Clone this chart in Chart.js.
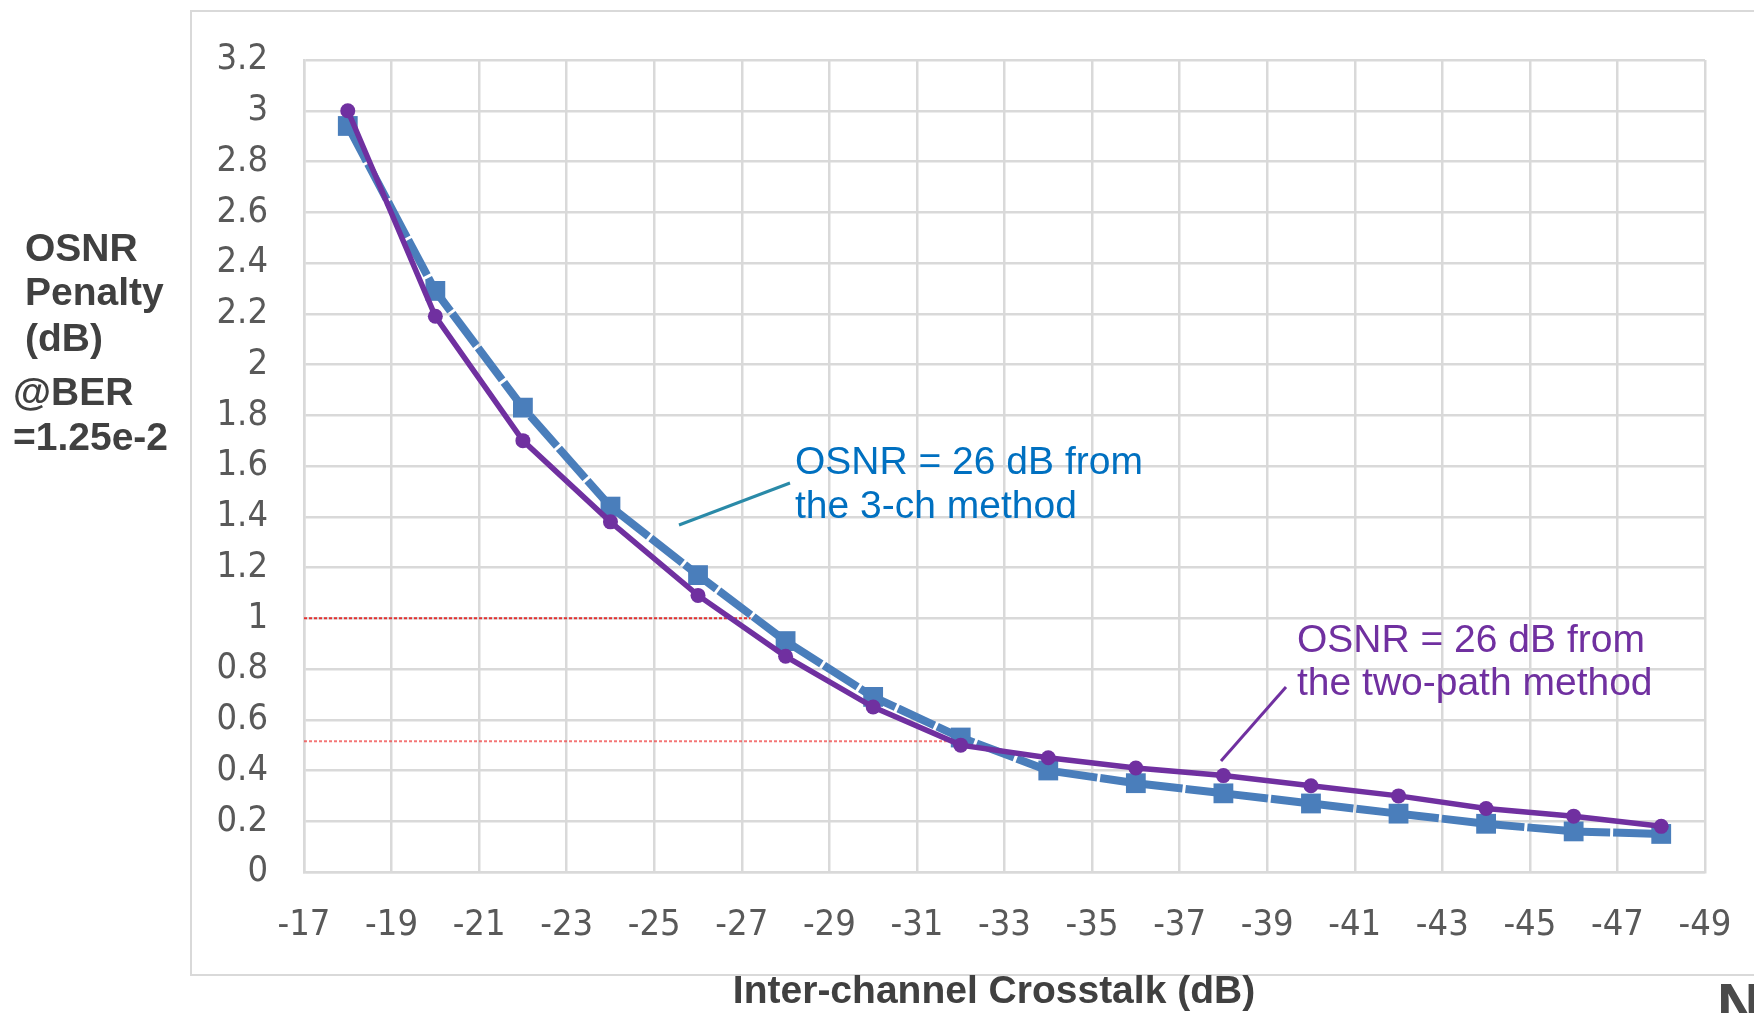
<!DOCTYPE html>
<html>
<head>
<meta charset="utf-8">
<script src="https://cdn.jsdelivr.net/npm/chart.js@4.4.1/dist/chart.umd.min.js"></script>
<style>
  html, body { margin: 0; padding: 0; background: #fff; }
  #wrap { width: 1754px; height: 1013px; }
</style>
</head>
<body>
<div id="wrap"><canvas id="penaltyChart" width="1754" height="1013"></canvas></div>
<script>
// crosstalk (dB) and OSNR penalty values
const crosstalk = [-18, -20, -22, -24, -26, -28, -30, -32, -34, -36, -38, -40, -42, -44, -46, -48];
const threeChPenalty = [2.94, 2.29, 1.83, 1.44, 1.17, 0.91, 0.69, 0.53, 0.40, 0.35, 0.31, 0.27, 0.23, 0.19, 0.16, 0.15];
const twoPathPenalty = [3.00, 2.19, 1.70, 1.38, 1.09, 0.85, 0.65, 0.50, 0.45, 0.41, 0.38, 0.34, 0.30, 0.25, 0.22, 0.18];

// red dotted guide lines: level and where they stop
const guideLevels = [1.0, 0.515];
const guideStart = -17;
const guideEnds = [-27.2, -32.2];

const xTicks = [-17, -19, -21, -23, -25, -27, -29, -31, -33, -35, -37, -39, -41, -43, -45, -47, -49];
const yTicks = [0, 0.2, 0.4, 0.6, 0.8, 1, 1.2, 1.4, 1.6, 1.8, 2, 2.2, 2.4, 2.6, 2.8, 3, 3.2];

const yTitleLines = ['OSNR', 'Penalty', '(dB)', '@BER', '=1.25e-2'];
const xTitle = 'Inter-channel Crosstalk (dB)';
const blueNote = ['OSNR = 26 dB from', 'the 3-ch method'];
const purpleNote = ['OSNR = 26 dB from', 'the two-path method'];

const GRID = '#d9d9d9';
const BLUE = '#4a7ebb';
const PURPLE = '#7030a0';
const TICK_FONT = '"Liberation Sans Narrow", "DejaVu Sans Condensed", "Liberation Sans", Arial, sans-serif';

const toXY = (xs, ys) => xs.map((x, i) => ({ x: x, y: ys[i] }));

const guideSets = guideLevels.map((lvl, i) => ({
    label: 'guide' + i,
    data: [{ x: guideStart, y: lvl }, { x: guideEnds[i], y: lvl }],
    borderColor: i === 0 ? 'rgba(230, 20, 20, 0.85)' : 'rgba(240, 60, 60, 0.7)',
    borderWidth: 2,
    borderDash: [3, 2],
    pointRadius: 0,
    order: 3
}));

// free text, leader lines and the outer frame
const decorations = {
    id: 'decorations',
    beforeDraw(chart) {
        const ctx = chart.ctx;
        ctx.save();
        ctx.fillStyle = '#fff';
        ctx.fillRect(0, 0, chart.width, chart.height);
        ctx.strokeStyle = GRID;
        ctx.lineWidth = 2;
        ctx.beginPath();
        ctx.moveTo(1754, 11);
        ctx.lineTo(191, 11);
        ctx.lineTo(191, 975);
        ctx.lineTo(1754, 975);
        ctx.stroke();
        ctx.restore();
    },
    afterDraw(chart) {
        const ctx = chart.ctx;
        ctx.save();
        ctx.textBaseline = 'middle';

        // y axis title
        ctx.fillStyle = '#404040';
        ctx.font = 'bold 39px "Liberation Sans", Arial, sans-serif';
        ctx.textAlign = 'left';
        const yTitleX = [25, 25, 25, 13, 13];
        const yTitleY = [250, 294, 340, 394, 439];
        yTitleLines.forEach((t, i) => ctx.fillText(t, yTitleX[i], yTitleY[i]));

        // x axis title
        ctx.textAlign = 'center';
        ctx.font = 'bold 39px "Liberation Sans", Arial, sans-serif';
        ctx.fillText(xTitle, 994, 992);

        // stray "N" cut off at the corner
        ctx.textAlign = 'left';
        ctx.textBaseline = 'alphabetic';
        ctx.fillStyle = '#4a4a4a';
        ctx.font = 'bold 60px "Liberation Sans", Arial, sans-serif';
        ctx.fillText('N', 1717, 1025);

        // annotations
        ctx.textBaseline = 'middle';
        ctx.font = '39px "Liberation Sans", Arial, sans-serif';
        ctx.fillStyle = '#0070c0';
        blueNote.forEach((t, i) => ctx.fillText(t, 795, 463 + i * 44));
        ctx.fillStyle = PURPLE;
        purpleNote.forEach((t, i) => ctx.fillText(t, 1297, 641 + i * 43));

        ctx.lineWidth = 3;
        ctx.strokeStyle = '#2a8aa8';
        ctx.beginPath();
        ctx.moveTo(679, 525);
        ctx.lineTo(790, 483);
        ctx.stroke();
        ctx.strokeStyle = PURPLE;
        ctx.beginPath();
        ctx.moveTo(1221, 761);
        ctx.lineTo(1286, 687);
        ctx.stroke();
        ctx.restore();
    }
};

const ctxPenalty = document.getElementById('penaltyChart').getContext('2d');
new Chart(ctxPenalty, {
    type: 'line',
    data: {
        datasets: [
            {
                label: 'two-path method',
                data: toXY(crosstalk, twoPathPenalty),
                borderColor: PURPLE,
                backgroundColor: PURPLE,
                borderWidth: 5.5,
                pointStyle: 'circle',
                pointRadius: 7.5,
                pointBorderWidth: 0,
                order: 1
            },
            {
                label: '3-ch method',
                data: toXY(crosstalk, threeChPenalty),
                borderColor: BLUE,
                backgroundColor: BLUE,
                borderWidth: 8,
                borderDash: [40, 3],
                pointStyle: 'rect',
                pointRadius: 14,
                pointBorderWidth: 0,
                order: 2
            },
            ...guideSets
        ]
    },
    options: {
        responsive: false,
        animation: false,
        layout: { padding: { top: 60, right: 49, bottom: 0, left: 0 } },
        plugins: {
            legend: { display: false },
            tooltip: { enabled: false }
        },
        scales: {
            x: {
                type: 'linear',
                reverse: true,
                min: -49,
                max: -17,
                afterFit: (s) => { s.height = 141; s.paddingLeft = 0; s.paddingRight = 0; },
                afterBuildTicks: (s) => { s.ticks = xTicks.map(v => ({ value: v })); },
                grid: { color: GRID, lineWidth: 2.5, drawTicks: false },
                border: { color: GRID, width: 2.5 },
                ticks: {
                    padding: 32,
                    color: '#595959',
                    font: { family: TICK_FONT, size: 36 },
                    maxRotation: 0,
                    autoSkip: false,
                    callback: (v) => String(v)
                }
            },
            y: {
                min: 0,
                max: 3.2,
                afterFit: (s) => { s.width = 304; },
                afterBuildTicks: (s) => { s.ticks = yTicks.map(v => ({ value: v })); },
                grid: { color: GRID, lineWidth: 2.5, drawTicks: false },
                border: { color: GRID, width: 2.5 },
                ticks: {
                    padding: 36,
                    color: '#595959',
                    font: { family: TICK_FONT, size: 36 },
                    autoSkip: false,
                    callback: (v) => String(Math.round(v * 10) / 10)
                }
            }
        }
    },
    plugins: [decorations]
});
</script>
</body>
</html>
